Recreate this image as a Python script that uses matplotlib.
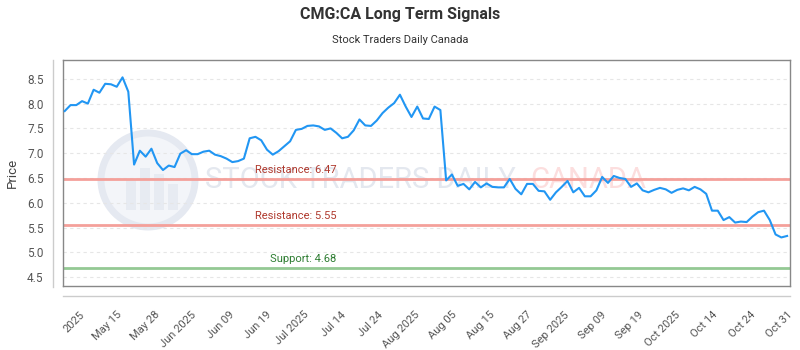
import numpy as np
import matplotlib
matplotlib.use("Agg")
import matplotlib.pyplot as plt
from matplotlib.lines import Line2D
from matplotlib.patches import Ellipse, Rectangle

plt.rcParams["font.family"] = ["Roboto", "DejaVu Sans"]

# 收盤價
prices = [
    7.85, 7.97, 7.97, 8.05, 8.00, 8.28, 8.22, 8.40, 8.39, 8.34, 8.53, 8.24,
    6.77, 7.05, 6.93, 7.09, 6.80, 6.66, 6.75, 6.72, 6.99, 7.06, 6.98, 6.98,
    7.03, 7.05, 6.97, 6.94, 6.89, 6.82, 6.84, 6.89, 7.30, 7.33, 7.26, 7.07,
    6.97, 7.04, 7.14, 7.24, 7.47, 7.49, 7.55, 7.56, 7.54, 7.47, 7.50, 7.41,
    7.30, 7.33, 7.46, 7.68, 7.56, 7.55, 7.66, 7.81, 7.92, 8.01, 8.18,
    7.94, 7.73, 7.94, 7.70, 7.69, 7.94, 7.87, 6.45, 6.57, 6.34, 6.38, 6.27,
    6.42, 6.31, 6.39, 6.32, 6.31, 6.31, 6.48, 6.28, 6.17, 6.38, 6.38, 6.24,
    6.23, 6.06, 6.21, 6.32, 6.44, 6.21, 6.30, 6.13, 6.13, 6.25, 6.52, 6.40,
    6.54, 6.50, 6.48, 6.32, 6.39, 6.25, 6.21, 6.26, 6.30, 6.27, 6.20, 6.26,
    6.29, 6.25, 6.32, 6.27, 6.18, 5.84, 5.84, 5.65, 5.71, 5.60, 5.62, 5.61,
    5.72, 5.81, 5.84, 5.65, 5.36, 5.30, 5.33,
]

tick_labels = [
    "2025", "May 15", "May 28", "Jun 2025", "Jun 09", "Jun 19", "Jul 2025",
    "Jul 14", "Jul 24", "Aug 2025", "Aug 05", "Aug 15", "Aug 27", "Sep 2025",
    "Sep 09", "Sep 19", "Oct 2025", "Oct 14", "Oct 24", "Oct 31",
]

resistance = [6.47, 5.55]
support = [4.68]

x = np.arange(len(prices))

W, H = 727, 226   # 繪圖區像素大小
fig = plt.figure(figsize=(8, 3.5), dpi=100)
ax = fig.add_axes([63 / 800, 1 - 286 / 350, W / 800, H / 350])

# 浮水印（圓形 logo + 字）
cx, cy, r = 85 / W, 106 / H, 47
ax.add_patch(Ellipse((cx, cy), 2 * r / W, 2 * r / H, transform=ax.transAxes,
                     facecolor="#f3f5f9", edgecolor="#e5e9f1", lw=5, zorder=0))
for dx, h in [(-22, 30), (-8, 42), (6, 36), (20, 26)]:
    ax.add_patch(Rectangle((cx + dx / W, cy - 30 / H), 10 / W, h / H,
                           transform=ax.transAxes, facecolor="#e7ebf2",
                           edgecolor="none", zorder=0))
ax.text(142 / W, 0.47, "STOCK TRADERS DAILY", transform=ax.transAxes,
        fontsize=21, color="#e4e8ef", va="center", ha="left", zorder=0)
ax.text(467 / W, 0.47, "CANADA", transform=ax.transAxes,
        fontsize=21, color="#fcdede", va="center", ha="left", zorder=0)

for lvl in resistance:
    ax.axhline(lvl, color="#f4a09a", lw=2, zorder=2)
    ax.text(0.32, lvl + 0.09, f"Resistance: {lvl:.2f}", transform=ax.get_yaxis_transform(),
            ha="center", va="bottom", fontsize=8, color="#b03a2e", zorder=3)
for lvl in support:
    ax.axhline(lvl, color="#94c994", lw=2, zorder=2)
    ax.text(0.33, lvl + 0.09, f"Support: {lvl:.2f}", transform=ax.get_yaxis_transform(),
            ha="center", va="bottom", fontsize=8, color="#2e7d32", zorder=3)

ax.plot(x, prices, color="#2196f3", lw=1.5, zorder=4)

ax.set_ylim(4.32, 8.88)
ax.set_xlim(-0.3, len(prices) - 0.5)
ax.set_yticks(np.arange(4.5, 8.51, 0.5))
ax.set_yticklabels([f"{v:.1f}" for v in np.arange(4.5, 8.51, 0.5)])
ax.grid(axis="y", color="#e6e6e6", ls=(0, (3, 3)), lw=0.8)
ax.set_axisbelow(True)

pos = np.linspace(2.6, len(prices) - 1, len(tick_labels))
ax.set_xticks(pos)
ax.set_xticklabels(tick_labels, rotation=45, ha="right", rotation_mode="anchor")
ax.tick_params(axis="x", length=0, pad=17, labelsize=8, labelcolor="#555555")
ax.tick_params(axis="y", length=0, pad=14, labelsize=8.5, labelcolor="#555555")

for s in ax.spines.values():
    s.set_color("#888888")
    s.set_linewidth(1)

ax.set_ylabel("Price", fontsize=9.5, color="#444444", labelpad=6)

# 外側軸線
fig.add_artist(Line2D([53 / 800, 53 / 800], [1 - 287 / 350, 1 - 60 / 350],
                      transform=fig.transFigure, color="#cccccc", lw=1))
fig.add_artist(Line2D([63 / 800, 790 / 800], [1 - 296 / 350, 1 - 296 / 350],
                      transform=fig.transFigure, color="#cccccc", lw=1))

fig.text(0.5, 1 - 15 / 350, "CMG:CA Long Term Signals", ha="center", va="center",
         fontsize=11.5, fontweight="bold", color="#333333")
fig.text(0.5, 1 - 40 / 350, "Stock Traders Daily Canada", ha="center", va="center",
         fontsize=8, color="#333333")

fig.savefig("out.png", dpi=100)
